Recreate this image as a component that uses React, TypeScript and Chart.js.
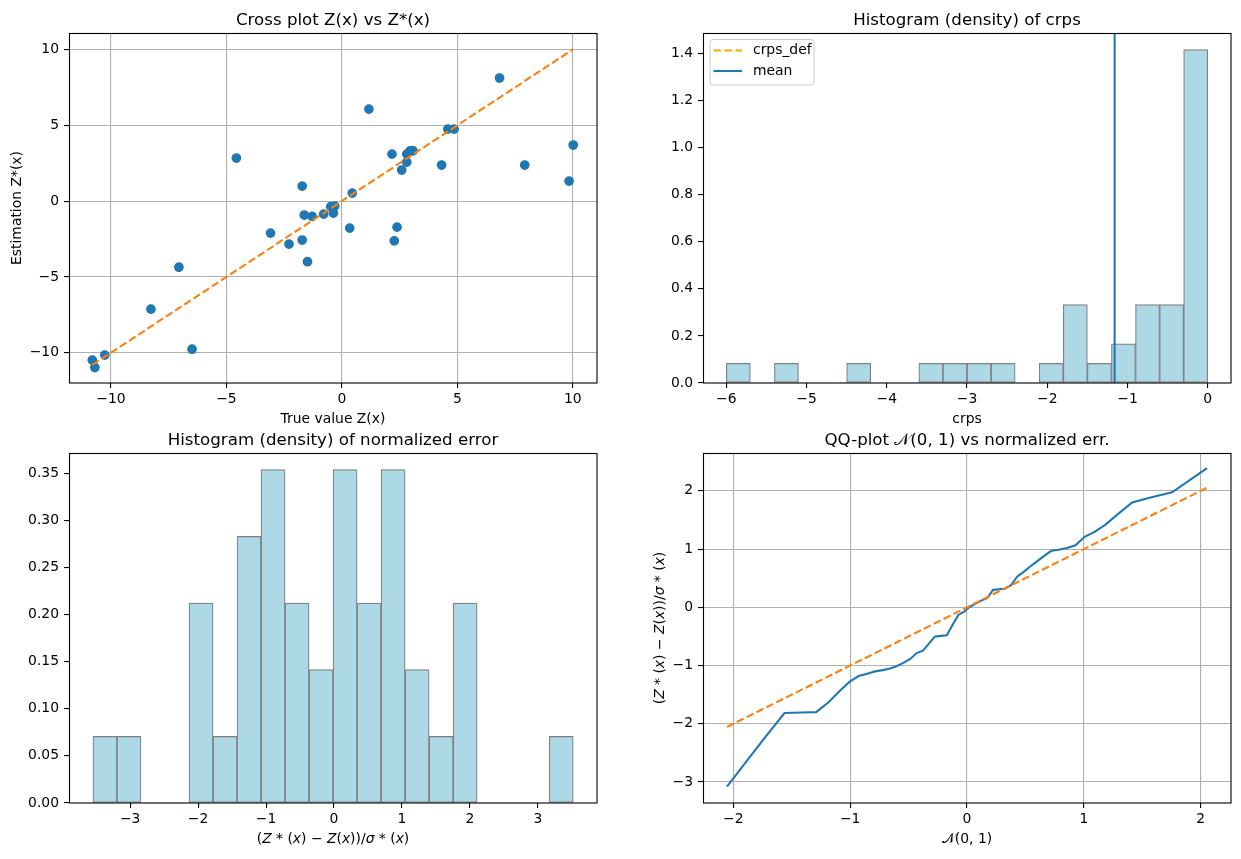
import React, { useEffect, useRef } from 'react';
import Chart from 'chart.js/auto';

const FONT = '"DejaVu Sans", "Noto Sans", sans-serif';
const TICK_PX = 13.9;
const TITLE_PX = 16.67;
const BLUE = '#1f77b4';
const ORANGE = '#ff7f0e';
const LIGHT_ORANGE = '#ffa500';
const BAR_FILL = '#add8e6';
const BAR_EDGE = '#808080';

// ---- Cross plot data ----
const crossTrue = [-10.81, -10.70, -10.27, -8.27, -7.06, -6.49, -4.57, -3.09, -2.29, -1.72, -1.72, -1.63, -1.49, -1.29, -0.79, -0.48, -0.37, -0.31, 0.45, 0.34, 1.17, 2.17, 2.39, 2.27, 2.59, 2.81, 2.81, 2.96, 3.08, 4.32, 4.59, 4.86, 6.83, 7.92, 9.84, 10.02];
const crossEst = [-10.49, -10.98, -10.16, -7.13, -4.36, -9.77, 2.84, -2.11, -2.84, 0.99, -2.57, -0.92, -4.00, -1.01, -0.86, -0.37, -0.79, -0.33, 0.53, -1.78, 6.07, 3.10, -1.72, -2.62, 2.05, 2.57, 3.10, 3.32, 3.32, 2.38, 4.75, 4.75, 8.12, 2.38, 1.32, 3.70];
const crossDiag = [-10.81, 10.02];
const crossXTicks = [-10, -5, 0, 5, 10];
const crossYTicks = [-10, -5, 0, 5, 10];

// ---- CRPS histogram ----
const crpsBinCenters = [-5.85, -5.55, -5.25, -4.95, -4.65, -4.35, -4.05, -3.75, -3.45, -3.15, -2.85, -2.55, -2.25, -1.95, -1.65, -1.35, -1.05, -0.75, -0.45, -0.15];
const crpsDensity = [0.0833, 0, 0.0833, 0, 0, 0.0833, 0, 0, 0.0833, 0.0833, 0.0833, 0.0833, 0, 0.0833, 0.3333, 0.0833, 0.1667, 0.3333, 0.3333, 1.4167];
const crpsMean = -1.16;
const crpsXTicks = [-6, -5, -4, -3, -2, -1, 0];
const crpsYTicks = [0, 0.2, 0.4, 0.6, 0.8, 1.0, 1.2, 1.4];
const crpsLegend = ['crps_def', 'mean'];

// ---- Normalized error histogram ----
const errBinCenters = [-3.371, -3.018, -2.664, -2.311, -1.957, -1.604, -1.251, -0.897, -0.544, -0.190, 0.163, 0.516, 0.870, 1.223, 1.577, 1.930, 2.284, 2.637, 2.990, 3.344];
const errDensity = [0.0707, 0.0707, 0, 0, 0.2122, 0.0707, 0.2829, 0.3537, 0.2122, 0.1415, 0.3537, 0.2122, 0.3537, 0.1415, 0.0707, 0.2122, 0, 0, 0, 0.0707];
const errXTicks = [-3, -2, -1, 0, 1, 2, 3];
const errYTicks = [0, 0.05, 0.10, 0.15, 0.20, 0.25, 0.30, 0.35];

// ---- QQ plot ----
const qqTheoretical = [-2.054, -1.755, -1.562, -1.413, -1.291, -1.185, -1.092, -1.006, -0.928, -0.855, -0.786, -0.721, -0.658, -0.599, -0.541, -0.485, -0.431, -0.377, -0.324, -0.274, -0.223, -0.173, -0.123, -0.074, -0.025, 0.025, 0.074, 0.123, 0.173, 0.223, 0.274, 0.324, 0.377, 0.431, 0.485, 0.541, 0.599, 0.658, 0.721, 0.786, 0.855, 0.928, 1.006, 1.092, 1.185, 1.291, 1.413, 1.562, 1.755, 2.054];
const qqSample = [-3.08, -2.30, -1.815, -1.805, -1.80, -1.63, -1.44, -1.28, -1.18, -1.14, -1.10, -1.078, -1.052, -1.008, -0.95, -0.886, -0.785, -0.743, -0.62, -0.50, -0.49, -0.48, -0.30, -0.13, -0.075, 0.01, 0.065, 0.115, 0.16, 0.30, 0.31, 0.32, 0.38, 0.53, 0.61, 0.70, 0.79, 0.88, 0.97, 0.99, 1.02, 1.065, 1.21, 1.295, 1.42, 1.60, 1.80, 1.88, 1.975, 2.39];
const qqRef = [-2.054, 2.054];
const qqXTicks = [-2, -1, 0, 1, 2];
const qqYTicks = [-3, -2, -1, 0, 1, 2];

type Seg = [string, boolean];

const errLabel: Seg[] = [['(', false], ['Z', true], [' * (', false], ['x', true], [')', false], [' \u2212 ', false], ['Z', true], ['(', false], ['x', true], ['))/', false], ['\u03c3', true], [' * (', false], ['x', true], [')', false]];
const normalLabel: Seg[] = [['\ud835\udca9', false], ['(0, 1)', false]];

function fmt(v: number, dec: number) {
  const s = Math.abs(v).toFixed(dec);
  return (v < -1e-9 ? '\u2212' : '') + s;
}

function drawSegs(ctx: CanvasRenderingContext2D, segs: Seg[], x: number, y: number, px: number, rotate: boolean) {
  ctx.save();
  ctx.translate(x, y);
  if (rotate) ctx.rotate(-Math.PI / 2);
  const fontOf = (it: boolean) => `${it ? 'italic ' : ''}${px}px ${FONT}`;
  let total = 0;
  for (const [t, it] of segs) {
    ctx.font = fontOf(it);
    total += ctx.measureText(t).width;
  }
  let cx = -total / 2;
  ctx.textBaseline = 'alphabetic';
  ctx.textAlign = 'left';
  ctx.fillStyle = '#000';
  for (const [t, it] of segs) {
    ctx.font = fontOf(it);
    ctx.fillText(t, cx, 0);
    cx += ctx.measureText(t).width;
  }
  ctx.restore();
}

interface DecoOpts {
  title: Seg[];
  xlabel?: Seg[];
  ylabel?: Seg[];
  ylabelOffset?: number;
  legend?: string[];
}

function decoPlugin(o: DecoOpts) {
  return {
    id: 'deco',
    afterDraw(chart: any) {
      const ctx: CanvasRenderingContext2D = chart.ctx;
      const a = chart.chartArea;
      const cxm = (a.left + a.right) / 2;
      const cym = (a.top + a.bottom) / 2;
      ctx.save();
      // spines
      ctx.strokeStyle = '#000';
      ctx.lineWidth = 1.1;
      ctx.strokeRect(Math.round(a.left) + 0.5, Math.round(a.top) + 0.5, Math.round(a.right - a.left) - 0.5, Math.round(a.bottom - a.top) - 0.5);
      // title and labels
      drawSegs(ctx, o.title, cxm, a.top - 8.3, TITLE_PX, false);
      if (o.xlabel) drawSegs(ctx, o.xlabel, cxm, a.bottom + 39.5, TICK_PX, false);
      if (o.ylabel) drawSegs(ctx, o.ylabel, a.left - (o.ylabelOffset || 48), cym, TICK_PX, true);
      if (o.legend) {
        const x0 = a.left + 7;
        const y0 = a.top + 6.5;
        const w = 104;
        const h = 45.5;
        const r = 3;
        ctx.beginPath();
        ctx.moveTo(x0 + r, y0);
        ctx.lineTo(x0 + w - r, y0);
        ctx.quadraticCurveTo(x0 + w, y0, x0 + w, y0 + r);
        ctx.lineTo(x0 + w, y0 + h - r);
        ctx.quadraticCurveTo(x0 + w, y0 + h, x0 + w - r, y0 + h);
        ctx.lineTo(x0 + r, y0 + h);
        ctx.quadraticCurveTo(x0, y0 + h, x0, y0 + h - r);
        ctx.lineTo(x0, y0 + r);
        ctx.quadraticCurveTo(x0, y0, x0 + r, y0);
        ctx.closePath();
        ctx.fillStyle = 'rgba(255,255,255,0.8)';
        ctx.fill();
        ctx.strokeStyle = '#cccccc';
        ctx.lineWidth = 1;
        ctx.stroke();
        const r1 = y0 + 11;
        const r2 = y0 + 31.5;
        ctx.lineWidth = 2.08;
        ctx.setLineDash([7.7, 3.3]);
        ctx.strokeStyle = LIGHT_ORANGE;
        ctx.beginPath();
        ctx.moveTo(x0 + 3.5, r1);
        ctx.lineTo(x0 + 32, r1);
        ctx.stroke();
        ctx.setLineDash([]);
        ctx.strokeStyle = BLUE;
        ctx.beginPath();
        ctx.moveTo(x0 + 3.5, r2);
        ctx.lineTo(x0 + 32, r2);
        ctx.stroke();
        ctx.fillStyle = '#000';
        ctx.font = `${TICK_PX}px ${FONT}`;
        ctx.textAlign = 'left';
        ctx.textBaseline = 'middle';
        ctx.fillText(o.legend[0], x0 + 43, r1);
        ctx.fillText(o.legend[1], x0 + 43, r2);
      }
      ctx.restore();
    },
  };
}

function axis(horizontal: boolean, min: number, max: number, ticks: number[], dec: number, gridOn: boolean, size: number) {
  return {
    type: 'linear',
    min,
    max,
    offset: false,
    grid: {
      display: true,
      drawOnChartArea: gridOn,
      color: '#b0b0b0',
      lineWidth: 1.1,
      drawTicks: true,
      tickLength: 5,
      tickColor: '#000',
      tickWidth: 1.1,
      offset: false,
    },
    border: { display: false },
    title: { display: false },
    ticks: {
      autoSkip: false,
      maxRotation: 0,
      minRotation: 0,
      padding: horizontal ? 3 : 5,
      color: '#000',
      font: { family: FONT, size: TICK_PX },
      callback: (v: number) => fmt(v, dec),
    },
    afterBuildTicks: (s: any) => {
      s.ticks = ticks.map((v) => ({ value: v }));
    },
    afterFit: (s: any) => {
      if (horizontal) s.height = size;
      else s.width = size;
      s.paddingLeft = 0;
      s.paddingRight = 0;
      s.paddingTop = 0;
      s.paddingBottom = 0;
    },
  };
}

function baseOptions(pad: { L: number; T: number; R: number; B: number }, x: any, y: any) {
  return {
    responsive: false,
    maintainAspectRatio: false,
    animation: false,
    events: [],
    layout: { padding: { left: 0, top: pad.T, right: pad.R, bottom: 0 } },
    plugins: { legend: { display: false }, tooltip: { enabled: false }, title: { display: false } },
    scales: { x, y },
  };
}

function crossConfig(): any {
  const pad = { L: 69, T: 33, R: 23, B: 47 };
  return {
    type: 'scatter',
    data: {
      datasets: [
        {
          type: 'line',
          data: crossDiag.map((v) => ({ x: v, y: v })),
          borderColor: ORANGE,
          borderWidth: 2.08,
          borderDash: [7.7, 3.3],
          pointRadius: 0,
          fill: false,
          tension: 0,
        },
        {
          type: 'scatter',
          data: crossTrue.map((v, i) => ({ x: v, y: crossEst[i] })),
          backgroundColor: BLUE,
          borderColor: BLUE,
          pointRadius: 4.17,
          pointBorderWidth: 1.39,
        },
      ],
    },
    options: baseOptions(pad, axis(true, -11.82, 11.05, crossXTicks, 0, true, pad.B), axis(false, -12.0, 11.09, crossYTicks, 0, true, pad.L)),
    plugins: [decoPlugin({ title: [['Cross plot Z(x) vs Z*(x)', false]], xlabel: [['True value Z(x)', false]], ylabel: [['Estimation Z*(x)', false]], ylabelOffset: 48 })],
  };
}

function crpsConfig(): any {
  const pad = { L: 83, T: 33, R: 10, B: 47 };
  return {
    type: 'bar',
    data: {
      datasets: [
        {
          type: 'line',
          data: [{ x: crpsMean, y: 0 }, { x: crpsMean, y: 1.4875 }],
          borderColor: BLUE,
          borderWidth: 2.08,
          pointRadius: 0,
          fill: false,
        },
        {
          type: 'bar',
          data: crpsBinCenters.map((c, i) => ({ x: c, y: crpsDensity[i] })),
          backgroundColor: BAR_FILL,
          borderColor: BAR_EDGE,
          borderWidth: (ctx: any) => (ctx.raw && ctx.raw.y > 0 ? 1.2 : 0),
          borderSkipped: false,
          barPercentage: 1,
          categoryPercentage: 1,
        },
      ],
    },
    options: baseOptions(pad, axis(true, -6.29, 0.29, crpsXTicks, 0, false, pad.B), axis(false, 0, 1.4875, crpsYTicks, 1, false, pad.L)),
    plugins: [decoPlugin({ title: [['Histogram (density) of crps', false]], xlabel: [['crps', false]], legend: crpsLegend })],
  };
}

function errConfig(): any {
  const pad = { L: 69, T: 23, R: 23, B: 56 };
  return {
    type: 'bar',
    data: {
      datasets: [
        {
          type: 'bar',
          data: errBinCenters.map((c, i) => ({ x: c, y: errDensity[i] })),
          backgroundColor: BAR_FILL,
          borderColor: BAR_EDGE,
          borderWidth: (ctx: any) => (ctx.raw && ctx.raw.y > 0 ? 1.2 : 0),
          borderSkipped: false,
          barPercentage: 1,
          categoryPercentage: 1,
        },
      ],
    },
    options: baseOptions(pad, axis(true, -3.90, 3.87, errXTicks, 0, false, pad.B), axis(false, 0, 0.3714, errYTicks, 2, false, pad.L)),
    plugins: [decoPlugin({ title: [['Histogram (density) of normalized error', false]], xlabel: errLabel })],
  };
}

function qqConfig(): any {
  const pad = { L: 83, T: 23, R: 10, B: 56 };
  return {
    type: 'scatter',
    data: {
      datasets: [
        {
          type: 'line',
          data: qqRef.map((v) => ({ x: v, y: v })),
          borderColor: ORANGE,
          borderWidth: 2.08,
          borderDash: [7.7, 3.3],
          pointRadius: 0,
          fill: false,
          tension: 0,
        },
        {
          type: 'line',
          data: qqTheoretical.map((v, i) => ({ x: v, y: qqSample[i] })),
          borderColor: BLUE,
          borderWidth: 2.08,
          pointRadius: 0,
          fill: false,
          tension: 0,
        },
      ],
    },
    options: baseOptions(pad, axis(true, -2.259, 2.259, qqXTicks, 0, true, pad.B), axis(false, -3.36, 2.65, qqYTicks, 0, true, pad.L)),
    plugins: [decoPlugin({ title: [['QQ-plot ', false], ['\ud835\udca9', false], ['(0, 1) vs normalized err.', false]], xlabel: normalLabel, ylabel: errLabel, ylabelOffset: 39 })],
  };
}

function Plot({ left, top, width, height, build }: { left: number; top: number; width: number; height: number; build: () => any }) {
  const ref = useRef<HTMLCanvasElement | null>(null);
  useEffect(() => {
    if (!ref.current) return;
    const chart = new Chart(ref.current, build());
    return () => chart.destroy();
  }, []);
  return <canvas ref={ref} width={width} height={height} style={{ position: 'absolute', left, top, width, height }} />;
}

export default function App() {
  return (
    <div style={{ position: 'absolute', left: 0, top: 0, width: 1241, height: 859, background: '#fff', overflow: 'hidden' }}>
      <Plot left={0} top={0} width={620} height={430} build={crossConfig} />
      <Plot left={620} top={0} width={621} height={430} build={crpsConfig} />
      <Plot left={0} top={430} width={620} height={429} build={errConfig} />
      <Plot left={620} top={430} width={621} height={429} build={qqConfig} />
    </div>
  );
}
